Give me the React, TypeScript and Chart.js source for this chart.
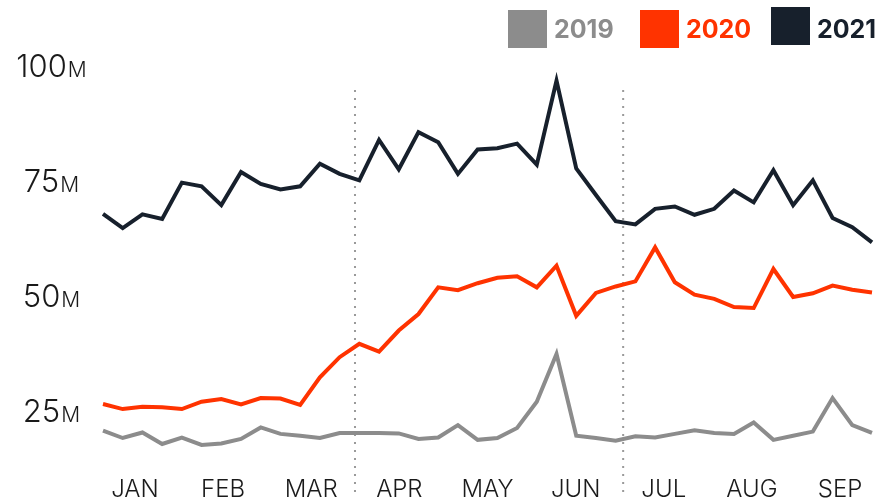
import React, { useEffect, useRef } from "react";
import { Chart, registerables } from "chart.js";

Chart.register(...registerables);

// ---- data (weekly values, millions) ----
const values2019 = [20.5, 18.9, 20.1, 17.6, 19.0, 17.4, 17.7, 18.7, 21.2, 19.8, 19.4, 18.9, 20.0, 20.0, 20.0, 19.9, 18.7, 19.0, 21.7, 18.5, 18.9, 21.1, 26.8, 37.2, 19.4, 18.9, 18.3, 19.3, 19.0, 19.8, 20.6, 20.0, 19.8, 22.3, 18.5, 19.4, 20.3, 27.6, 21.7, 20.0];
const values2020 = [26.3, 25.2, 25.7, 25.6, 25.2, 26.8, 27.4, 26.2, 27.6, 27.5, 26.1, 32.1, 36.5, 39.4, 37.7, 42.3, 45.9, 51.7, 51.1, 52.6, 53.8, 54.1, 51.7, 56.4, 45.5, 50.5, 51.9, 53.0, 60.4, 52.8, 50.1, 49.2, 47.4, 47.2, 55.7, 49.6, 50.4, 52.1, 51.2, 50.6];
const values2021 = [67.7, 64.6, 67.6, 66.6, 74.5, 73.7, 69.6, 76.8, 74.2, 73.0, 73.7, 78.6, 76.4, 75.0, 83.8, 77.4, 85.5, 83.3, 76.4, 81.7, 82.0, 83.0, 78.4, 96.7, 77.6, 71.8, 66.1, 65.4, 68.8, 69.3, 67.5, 68.8, 72.8, 70.2, 77.2, 69.6, 75.0, 66.8, 64.8, 61.5];

const monthLabels = ["JAN", "FEB", "MAR", "APR", "MAY", "JUN", "JUL", "AUG", "SEP"];
// month label positions, in week units
const monthPositions = [1.62, 6.09, 10.56, 15.03, 19.5, 23.97, 28.44, 32.91, 37.38];
// quarter boundaries (dotted lines), in week units
const quarterBreaks = [12.78, 26.38];

const yTickValues = [25, 50, 75, 100];
const yTickSuffix = "M";

const seriesNames = ["2019", "2020", "2021"];
const seriesColors = ["#8c8c8c", "#ff3300", "#17202c"];

const FONT = "Inter, 'Open Sans', Lato, sans-serif";

const toPoints = (arr: number[]) => arr.map((v, i) => ({ x: i, y: v }));

const legendBoxX = [508, 640, 771];
const legendBoxY = [10, 10, 7];

const decorPlugin = {
  id: "decor",
  beforeDatasetsDraw(chart: any) {
    const { ctx } = chart;
    const x = chart.scales.x;
    ctx.save();
    ctx.strokeStyle = "#9a9a9a";
    ctx.lineWidth = 2;
    ctx.setLineDash([2, 6]);
    for (const q of quarterBreaks) {
      const px = x.getPixelForValue(q);
      ctx.beginPath();
      ctx.moveTo(px, 90);
      ctx.lineTo(px, chart.height);
      ctx.stroke();
    }
    ctx.restore();
  },
  afterDraw(chart: any) {
    const { ctx } = chart;
    const x = chart.scales.x;
    const y = chart.scales.y;
    ctx.save();
    // y labels
    ctx.fillStyle = "#1a1a1a";
    ctx.textAlign = "left";
    ctx.textBaseline = "alphabetic";
    for (const v of yTickValues) {
      const py = y.getPixelForValue(v);
      const big = "300 31px " + FONT;
      const small = "300 21px " + FONT;
      ctx.font = big;
      const w1 = ctx.measureText(String(v)).width;
      ctx.font = small;
      const w2 = ctx.measureText(yTickSuffix).width;
      const start = 51 - (w1 + w2) / 2;
      ctx.font = big;
      ctx.fillText(String(v), start, py + 11.5);
      ctx.font = small;
      ctx.fillText(yTickSuffix, start + w1 + 1, py + 11.5);
    }
    // x labels
    ctx.font = "300 24px " + FONT;
    ctx.textAlign = "center";
    monthLabels.forEach((m, i) => {
      ctx.fillText(m, x.getPixelForValue(monthPositions[i]), 496.5);
    });
    // legend
    ctx.font = "700 25px " + FONT;
    ctx.textAlign = "left";
    seriesNames.forEach((name, i) => {
      ctx.fillStyle = seriesColors[i];
      ctx.fillRect(legendBoxX[i], legendBoxY[i], 39, 38);
      ctx.fillText(name, legendBoxX[i] + 46, 38);
    });
    ctx.restore();
  },
};

export default function App() {
  const ref = useRef<HTMLCanvasElement | null>(null);
  useEffect(() => {
    if (!ref.current) return;
    const chart = new Chart(ref.current, {
      type: "line",
      data: {
        datasets: [values2019, values2020, values2021].map((arr, i) => ({
          label: seriesNames[i],
          data: toPoints(arr),
          borderColor: seriesColors[i],
          backgroundColor: seriesColors[i],
          borderWidth: 4,
          pointRadius: 0,
          tension: 0,
          borderJoinStyle: "miter" as const,
          clip: false as any,
        })),
      },
      options: {
        responsive: false,
        animation: false,
        devicePixelRatio: 1,
        layout: { padding: { left: 103, right: 7, top: 65.5, bottom: 19.1 } },
        plugins: { legend: { display: false }, tooltip: { enabled: false } },
        scales: {
          x: { type: "linear", min: 0, max: 39, display: false },
          y: { type: "linear", min: 10, max: 100, display: false },
        },
      },
      plugins: [decorPlugin],
    });
    return () => chart.destroy();
  }, []);
  return (
    <div style={{ position: "absolute", left: 0, top: 0, width: 879, height: 498, background: "#fff" }}>
      <canvas ref={ref} width={879} height={498} style={{ display: "block" }} />
    </div>
  );
}
